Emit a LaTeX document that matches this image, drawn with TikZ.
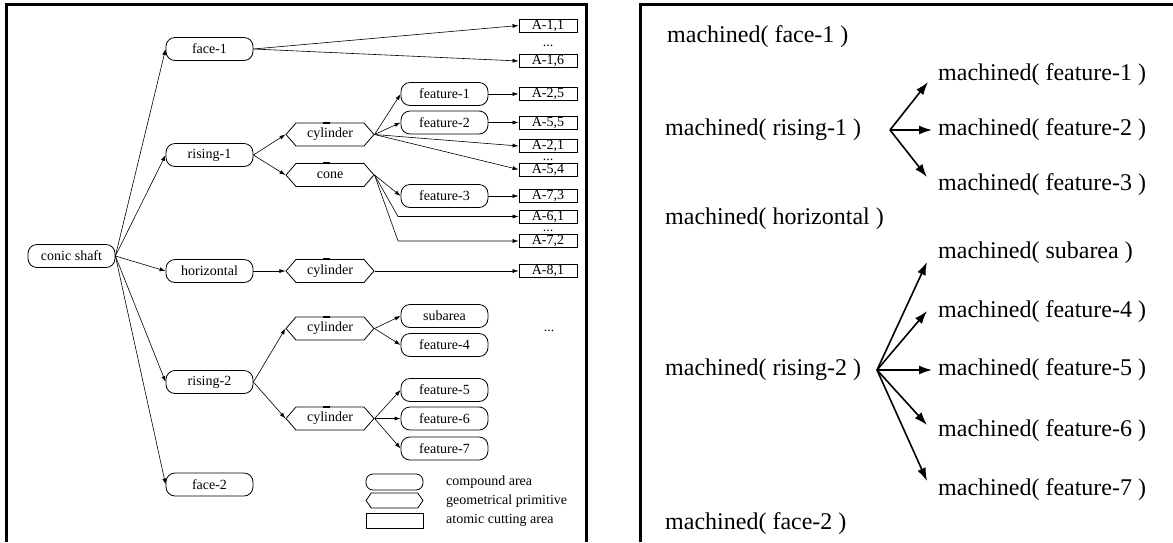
\documentclass[tikz,border=0pt]{standalone}
\usepackage{fontspec}
\setmainfont{Liberation Serif}
\usetikzlibrary{arrows.meta,shapes.symbols}
\begin{document}
\begin{tikzpicture}[x=1pt,y=-1pt,
 every node/.style={inner sep=0pt, font=\fontsize{14}{16}\selectfont},
 area/.style={draw, rounded corners=9pt, minimum width=87pt, minimum height=23pt, line width=0.8pt},
 prim/.style={draw, signal, signal to=west and east, signal pointer angle=98, minimum width=88pt, minimum height=23pt, line width=0.8pt},
 atom/.style={draw, minimum width=58pt, minimum height=13pt, line width=0.8pt},
 dots/.style={anchor=base, text height=2pt, text depth=0pt},
 conn/.style={line width=0.6pt, -{Latex[length=6pt,width=4pt]}},
 bigtext/.style={font=\fontsize{24}{28}\selectfont, anchor=west},
 bigarrow/.style={line width=1.6pt, -{Latex[length=13pt,width=9pt]}},
 frame/.style={line width=3pt},
 topmark/.style={line width=2pt}]
\useasboundingbox (0,0) rectangle (1173,542);
\fill[white] (0,0) rectangle (1173,542);
% frames
\draw[frame] (6.5,542) -- (6.5,4.5) -- (586,4.5) -- (586,542);
\draw[frame] (640,542) -- (640,4.5) -- (1173,4.5);
% left tree
\node[area] (cs) at (71.5,256) {conic shaft};
\node[area] (f1) at (209.5,49) {face-1};
\node[area] (r1) at (209.5,155) {rising-1};
\node[area] (hz) at (209.5,271) {horizontal};
\node[area] (r2) at (209.5,382) {rising-2};
\node[area] (f2) at (209.5,484.5) {face-2};
\node[prim] (c1) at (330,134.5) {cylinder};
\node[prim] (co) at (330,175) {cone};
\node[prim] (c2) at (330,271) {cylinder};
\node[prim] (c3) at (330,328.5) {cylinder};
\node[prim] (c4) at (330,418.5) {cylinder};
\node[area] (fe1) at (444.5,94) {feature-1};
\node[area] (fe2) at (444.5,122.5) {feature-2};
\node[area] (fe3) at (444.5,196) {feature-3};
\node[area] (sub) at (444.5,316) {subarea};
\node[area] (fe4) at (444.5,345) {feature-4};
\node[area] (fe5) at (444.5,390) {feature-5};
\node[area] (fe6) at (444.5,418.5) {feature-6};
\node[area] (fe7) at (444.5,448.5) {feature-7};
\node[atom] (a11) at (548,25.5) {A-1,1};
\node[atom] (a16) at (548,61) {A-1,6};
\node[atom] (a25) at (548,94) {A-2,5};
\node[atom] (a55) at (548,122.5) {A-5,5};
\node[atom] (a21) at (548,146) {A-2,1};
\node[atom] (a54) at (548,169.5) {A-5,4};
\node[atom] (a73) at (548,196) {A-7,3};
\node[atom] (a61) at (548,216.5) {A-6,1};
\node[atom] (a72) at (548,241) {A-7,2};
\node[atom] (a81) at (548,271) {A-8,1};
\node[dots] (d1) at (548,46) {...};
\node[dots] (d2) at (548,160) {...};
\node[dots] (d3) at (548,231.5) {...};
\node[dots] (d4) at (549,331) {...};
% marks on hexagons
\foreach \n in {c1,co,c2,c3,c4} \draw[topmark] ([xshift=-7pt]\n.north) -- (\n.north);
% edges
\foreach \t in {f1,r1,hz,r2,f2} \draw[conn] (cs.east) -- (\t.west);
\draw[conn] (f1.east) -- (a11.west);
\draw[conn] (f1.east) -- (a16.west);
\draw[conn] (r1.east) -- (c1.west);
\draw[conn] (r1.east) -- (co.west);
\draw[conn] (c1.east) -- (fe1.west);
\draw[conn] (c1.east) -- (fe2.west);
\draw[conn] (c1.east) -- (a21.west);
\draw[conn] (c1.east) -- (a54.west);
\draw[conn] (fe1.east) -- (a25.west);
\draw[conn] (fe2.east) -- (a55.west);
\draw[conn] (co.east) -- (fe3.west);
\draw[conn] (fe3.east) -- (a73.west);
\coordinate (k1) at (398,216.5);
\coordinate (k2) at (398,241);
\draw[conn] (co.east) -- (k1) -- (a61.west);
\draw[conn] (co.east) -- (k2) -- (a72.west);
\draw[conn] (hz.east) -- (c2.west);
\draw[conn] (c2.east) -- (a81.west);
\draw[conn] (r2.east) -- (c3.west);
\draw[conn] (r2.east) -- (c4.west);
\draw[conn] (c3.east) -- (sub.west);
\draw[conn] (c3.east) -- (fe4.west);
\draw[conn] (c4.east) -- (fe5.west);
\draw[conn] (c4.east) -- (fe6.west);
\draw[conn] (c4.east) -- (fe7.west);
% legend
\node[area, minimum width=57pt, minimum height=16pt, rounded corners=7pt] (lg1) at (394.5,482) {};
\node[prim, minimum width=57pt, minimum height=15pt, signal pointer angle=110] (lg2) at (394.5,500.5) {};
\node[atom, minimum width=57pt, minimum height=15pt] (lg3) at (394.5,520.5) {};
\node[anchor=west] (lt1) at (446,482) {compound area};
\node[anchor=west] (lt2) at (446,501) {geometrical primitive};
\node[anchor=west] (lt3) at (446,520) {atomic cutting area};
% right panel
\node[bigtext] (m1) at (667,37) {machined( face-1 )};
\node[bigtext] (mr1) at (665,130) {machined( rising-1 )};
\node[bigtext] (mhz) at (665,219) {machined( horizontal )};
\node[bigtext] (mr2) at (665,370) {machined( rising-2 )};
\node[bigtext] (mf2) at (665,524) {machined( face-2 )};
\node[bigtext] (mfe1) at (938,75) {machined( feature-1 )};
\node[bigtext] (mfe2) at (938,130) {machined( feature-2 )};
\node[bigtext] (mfe3) at (938,185) {machined( feature-3 )};
\node[bigtext] (msub) at (938,253) {machined( subarea )};
\node[bigtext] (mfe4) at (938,312) {machined( feature-4 )};
\node[bigtext] (mfe5) at (938,370) {machined( feature-5 )};
\node[bigtext] (mfe6) at (938,431) {machined( feature-6 )};
\node[bigtext] (mfe7) at (938,490) {machined( feature-7 )};
\coordinate (o1) at (890,130);
\coordinate (o2) at (877,370);
\draw[bigarrow] (o1) -- (928,82);
\draw[bigarrow, shorten >=6pt] (o1) -- (mfe2.west);
\draw[bigarrow] (o1) -- (927,177);
\draw[bigarrow] (o2) -- (927,262);
\draw[bigarrow] (o2) -- (927,311);
\draw[bigarrow, shorten >=6pt] (o2) -- (mfe5.west);
\draw[bigarrow] (o2) -- (927,425);
\draw[bigarrow] (o2) -- (927,481);
\end{tikzpicture}
\end{document}
